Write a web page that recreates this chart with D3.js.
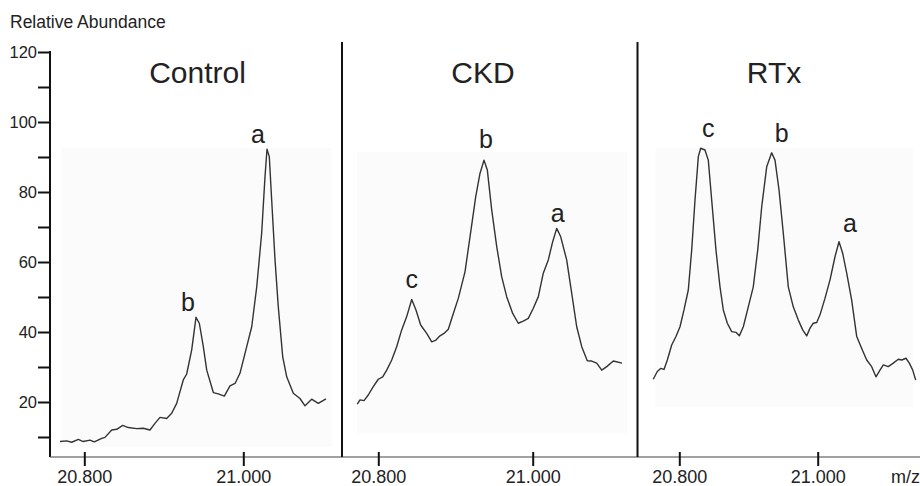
<!DOCTYPE html>
<html>
<head>
<meta charset="utf-8">
<script src="https://cdn.jsdelivr.net/npm/d3@7"></script>
<style>
  html, body { margin: 0; padding: 0; background: #fff; }
  svg { display: block; font-family: "Liberation Sans", Arial, sans-serif; }
</style>
</head>
<body>
<svg id="chart" width="920" height="486"></svg>
<script>
// Extracted ion chromatogram-style spectra, three sample groups
const panelNames = ["Control", "CKD", "RTx"];

// m/z values and relative abundances for each trace
const controlMz = [20.7694, 20.7779, 20.7842, 20.7925, 20.7987, 20.8072, 20.8126, 20.8219, 20.8260, 20.8345,
  20.8408, 20.8483, 20.8553, 20.8659, 20.8742, 20.8826, 20.8889, 20.8952, 20.9036, 20.9099,
  20.9162, 20.9245, 20.9288, 20.9351, 20.9405, 20.9447, 20.9497, 20.9540, 20.9623, 20.9686,
  20.9761, 20.9833, 20.9896, 20.9958, 21.0043, 21.0106, 21.0169, 21.0231, 21.0273, 21.0298,
  21.0327, 21.0357, 21.0399, 21.0440, 21.0496, 21.0546, 21.0629, 21.0713, 21.0776, 21.0860,
  21.0943, 21.1040];
const controlAbundance = [8.7, 8.9, 8.5, 9.3, 8.7, 9.1, 8.6, 9.6, 9.9, 12.0,
  12.2, 13.3, 12.7, 12.4, 12.5, 12.0, 13.9, 15.6, 15.3, 16.8,
  19.6, 26.3, 28.0, 34.9, 44.2, 42.5, 35.8, 29.1, 22.7, 22.3,
  21.7, 24.6, 25.3, 28.2, 35.8, 41.5, 52.9, 68.2, 84.4, 92.2,
  90.1, 77.7, 60.6, 47.2, 32.9, 27.2, 22.5, 21.0, 18.9, 20.8,
  19.6, 20.9];

const ckdMz = [20.7728, 20.7763, 20.7815, 20.7870, 20.7935, 20.8000, 20.8057, 20.8109, 20.8174, 20.8238,
  20.8303, 20.8368, 20.8433, 20.8488, 20.8549, 20.8627, 20.8692, 20.8747, 20.8799, 20.8851,
  20.8907, 20.8972, 20.9036, 20.9123, 20.9188, 20.9262, 20.9317, 20.9369, 20.9412, 20.9469,
  20.9534, 20.9598, 20.9663, 20.9741, 20.9813, 20.9878, 20.9943, 21.0008, 21.0073, 21.0137,
  21.0202, 21.0259, 21.0311, 21.0363, 21.0440, 21.0505, 21.0570, 21.0635, 21.0707, 21.0764,
  21.0829, 21.0894, 21.0959, 21.1044, 21.1157];
const ckdAbundance = [19.4, 20.6, 20.4, 22.0, 24.4, 26.5, 27.2, 29.1, 32.0, 35.8,
  40.6, 44.4, 49.3, 46.3, 42.0, 39.6, 37.2, 37.7, 38.9, 39.6,
  40.8, 45.3, 49.6, 57.2, 67.2, 78.7, 85.3, 89.1, 86.3, 74.9,
  64.4, 55.8, 50.1, 45.3, 42.5, 43.1, 43.9, 46.8, 50.1, 56.8,
  60.6, 65.8, 69.6, 67.2, 60.6, 51.1, 41.5, 35.8, 31.8, 31.7,
  31.1, 29.1, 30.1, 31.7, 31.1];

const rtxMz = [20.7624, 20.7682, 20.7731, 20.7779, 20.7827, 20.7890, 20.7952, 20.8010, 20.8068, 20.8130,
  20.8179, 20.8227, 20.8275, 20.8309, 20.8371, 20.8419, 20.8468, 20.8530, 20.8588, 20.8636,
  20.8694, 20.8757, 20.8819, 20.8867, 20.8925, 20.8997, 20.9069, 20.9133, 20.9191, 20.9263,
  20.9335, 20.9383, 20.9441, 20.9503, 20.9575, 20.9647, 20.9720, 20.9783, 20.9841, 20.9889,
  20.9936, 20.9986, 21.0033, 21.0105, 21.0178, 21.0250, 21.0308, 21.0361, 21.0419, 21.0491,
  21.0564, 21.0636, 21.0708, 21.0780, 21.0842, 21.0900, 21.0948, 21.1020, 21.1092, 21.1165,
  21.1214, 21.1276, 21.1324, 21.1373, 21.1416];
const rtxAbundance = [26.5, 28.7, 29.6, 29.3, 32.0, 36.3, 38.7, 41.5, 46.3, 52.0,
  63.4, 77.7, 90.1, 92.5, 92.0, 89.1, 77.7, 63.4, 52.9, 46.3,
  42.5, 40.1, 39.9, 38.9, 41.5, 47.2, 52.9, 63.4, 75.8, 87.2,
  91.2, 89.1, 80.6, 68.2, 52.9, 47.2, 43.4, 40.6, 38.9, 41.1,
  42.5, 42.7, 44.9, 49.6, 54.9, 61.5, 65.8, 62.5, 56.8, 49.1,
  38.7, 35.3, 32.0, 30.1, 27.2, 29.1, 30.6, 30.1, 31.1, 32.2,
  32.0, 32.5, 31.1, 29.1, 26.3];

// Peak letters and where they sit (m/z, abundance of the text baseline)
const peakLetters = [["b", "a"], ["c", "b", "a"], ["c", "b", "a"]];
const peakLabelMz = [[20.9304, 21.0185], [20.8433, 20.9395, 21.0324], [20.8419, 20.9480, 21.0467]];
const peakLabelAbundance = [[46.0, 94.0], [52.5, 92.6, 71.5], [95.8, 94.4, 68.7]];

// Axis ticks
const yTickValues = [10, 20, 30, 40, 50, 60, 70, 80, 90, 100, 110, 120];
const xTickValues = [20.8, 21.0];
const xTickLabels = ["20.800", "21.000"];
const yTitle = "Relative Abundance";
const xUnit = "m/z";

const traces = [
  d3.zip(controlMz, controlAbundance),
  d3.zip(ckdMz, ckdAbundance),
  d3.zip(rtxMz, rtxAbundance)
];

const svg = d3.select("#chart");
const ink = "#222";

// Shared vertical scale
const y = d3.scaleLinear().domain([0, 120]).range([472, 52]);
const axisBottomY = 457;
const axisLeftX = 50;

// Each panel has its own m/z scale: pixel positions of 20.800 and 21.000
const panelLayout = [
  { left: 50,    right: 342,   r0: 84.3,  r1: 243.3, title: 197.5 },
  { left: 342,   right: 637.5, r0: 378.3, r1: 532.7, title: 483 },
  { left: 637.5, right: 920,   r0: 679.3, r1: 817.7, title: 774 }
];
const xScales = panelLayout.map(p => d3.scaleLinear().domain([20.8, 21.0]).range([p.r0, p.r1]));

// faint plotting-area shading behind each trace
const shade = [
  { mz: [20.7713, 21.1109], v: [92.6, 7.1] },
  { mz: [20.7729, 21.1226], v: [91.4, 11.1] },
  { mz: [20.7654, 21.1385], v: [92.6, 18.6] }
];
shade.forEach((s, i) => {
  const x = xScales[i];
  svg.append("rect")
    .attr("x", x(s.mz[0])).attr("y", y(s.v[0]))
    .attr("width", x(s.mz[1]) - x(s.mz[0]))
    .attr("height", y(s.v[1]) - y(s.v[0]))
    .attr("fill", "#fbfbfb");
});

// Y axis
const yAxis = d3.axisLeft(y)
  .tickValues(yTickValues)
  .tickSize(12)
  .tickPadding(1)
  .tickFormat(d => d % 20 === 0 ? d : "");
const gy = svg.append("g").attr("transform", `translate(${axisLeftX},0)`).call(yAxis);
gy.select(".domain").remove();
gy.selectAll(".tick line").attr("stroke", "#111").attr("stroke-width", 2);
gy.selectAll(".tick text")
  .attr("fill", ink)
  .style("font-size", "16.5px")
  .style("font-family", "'Liberation Sans', Arial, sans-serif");
svg.append("line")
  .attr("x1", axisLeftX).attr("x2", axisLeftX)
  .attr("y1", y(120) - 1).attr("y2", axisBottomY)
  .attr("stroke", "#111").attr("stroke-width", 2);

// Bottom baseline
svg.append("line")
  .attr("x1", axisLeftX).attr("x2", 920)
  .attr("y1", axisBottomY).attr("y2", axisBottomY)
  .attr("stroke", "#444").attr("stroke-width", 1.2);

// Panel dividers
panelLayout.slice(1).forEach(p => {
  svg.append("line")
    .attr("x1", p.left).attr("x2", p.left)
    .attr("y1", 42).attr("y2", axisBottomY)
    .attr("stroke", "#111").attr("stroke-width", 2);
});

const line = d3.line().curve(d3.curveLinear);

panelLayout.forEach((p, i) => {
  const x = xScales[i];

  // m/z ticks straddle the baseline
  const xAxis = d3.axisBottom(x)
    .tickValues(xTickValues)
    .tickSize(14)
    .tickPadding(4)
    .tickFormat((d, k) => xTickLabels[k]);
  const gx = svg.append("g").attr("transform", `translate(0,${axisBottomY - 5})`).call(xAxis);
  gx.select(".domain").remove();
  gx.selectAll(".tick line").attr("stroke", "#111").attr("stroke-width", 2);
  gx.selectAll(".tick text")
    .attr("fill", ink)
    .style("font-size", "18px")
    .style("font-family", "'Liberation Sans', Arial, sans-serif");

  // trace
  svg.append("path")
    .datum(traces[i])
    .attr("d", line.x(d => x(d[0])).y(d => y(d[1])))
    .attr("fill", "none")
    .attr("stroke", "#333")
    .attr("stroke-width", 1.4)
    .attr("stroke-linejoin", "round");

  // panel title
  svg.append("text")
    .attr("x", p.title).attr("y", 82.5)
    .attr("text-anchor", "middle")
    .attr("fill", ink)
    .style("font-size", "30px")
    .text(panelNames[i]);

  // peak letters
  peakLetters[i].forEach((letter, k) => {
    svg.append("text")
      .attr("x", x(peakLabelMz[i][k]))
      .attr("y", y(peakLabelAbundance[i][k]))
      .attr("text-anchor", "middle")
      .attr("fill", ink)
      .style("font-size", "25px")
      .text(letter);
  });
});

// Axis titles
svg.append("text")
  .attr("x", 10).attr("y", 28)
  .attr("fill", ink)
  .style("font-size", "17.5px")
  .text(yTitle);

svg.append("text")
  .attr("x", 891).attr("y", 483)
  .attr("fill", ink)
  .style("font-size", "18px")
  .text(xUnit);
</script>
</body>
</html>
